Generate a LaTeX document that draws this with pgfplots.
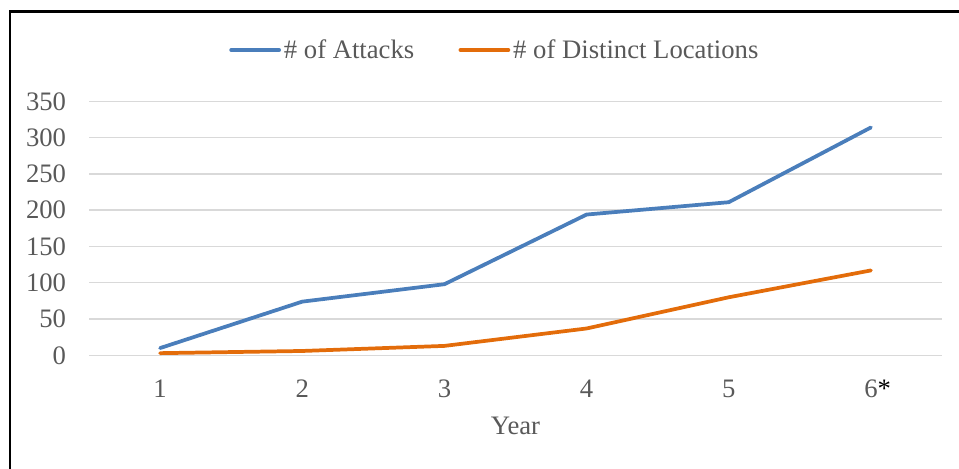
\documentclass[border=0pt]{standalone}
\usepackage{fontspec}
\setmainfont{Liberation Serif}
\usepackage{pgfplots}
\pgfplotsset{compat=1.18}

\definecolor{attacks}{HTML}{4A7EBB}
\definecolor{locations}{HTML}{E36C0A}
\definecolor{txtgrey}{HTML}{595959}
\definecolor{gridgrey}{HTML}{D9D9D9}

\newcommand{\chartfont}{\fontsize{20}{24}\selectfont}

\begin{document}
\begin{tikzpicture}
  \useasboundingbox (0pt,0pt) rectangle (719.25pt,351pt);
  % partial outer frame
  \draw[line width=1.7pt, black] (7.5pt,-2pt) -- (7.5pt,342.4pt) -- (721pt,342.4pt);

  \begin{axis}[
    at={(66.75pt,84.5pt)}, anchor=south west,
    scale only axis,
    width=639.75pt, height=190.5pt,
    xmin=0.5, xmax=6.5,
    ymin=0, ymax=350,
    xtick={1,2,3,4,5,6},
    xticklabels={1,2,3,4,5,{6\rlap{\color{black}*}}},
    ytick={0,50,...,350},
    axis line style={draw=none},
    major tick length=0pt,
    ymajorgrids,
    grid style={gridgrey, line width=1.1pt},
    tick label style={font=\chartfont, text=txtgrey, inner sep=0pt},
    yticklabel style={anchor=east, xshift=-17pt},
    xticklabel style={anchor=north, yshift=-18pt},
    /pgf/number format/assume math mode=true,
    xlabel={Year},
    xlabel style={font=\chartfont, text=txtgrey, inner sep=0pt,
                  at={(axis description cs:0.5,0)}, anchor=north, yshift=-46pt},
    legend columns=2,
    legend style={draw=none, fill=none, font=\chartfont, text=txtgrey,
                  at={(axis description cs:0.4763,1.202)}, anchor=center,
                  inner sep=0pt, column sep=0pt,
                  nodes={inner sep=2.2pt, text=txtgrey},
                  /tikz/every even column/.append style={column sep=31pt}},
    legend image code/.code={
      \draw[#1, line cap=round] (0pt,0pt) -- (36pt,0pt);
    },
    every axis plot/.append style={line width=2.8pt, line join=round, line cap=round},
  ]
    \addplot[attacks, mark=none] coordinates {
      (1,10) (2,74) (3,98) (4,194) (5,211) (6,314)
    };
    \addlegendentry{\# of Attacks}
    \addplot[locations, mark=none] coordinates {
      (1,3) (2,6) (3,13) (4,37) (5,80) (6,117)
    };
    \addlegendentry{\# of Distinct Locations}
  \end{axis}
\end{tikzpicture}
\end{document}
